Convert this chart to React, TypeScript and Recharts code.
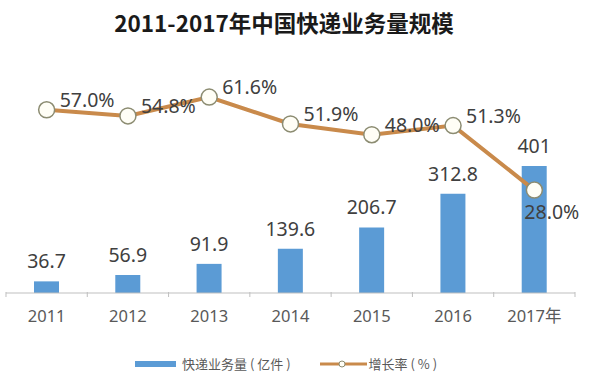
import { Bar, ComposedChart, LabelList, Line, XAxis, YAxis } from 'recharts';

const years = ['2011', '2012', '2013', '2014', '2015', '2016', '2017年'];
const volume = [36.7, 56.9, 91.9, 139.6, 206.7, 312.8, 401];
const growth = [57.0, 54.8, 61.6, 51.9, 48.0, 51.3, 28.0];

const data = years.map((year, i) => ({ year, volume: volume[i], growth: growth[i] }));

const BLUE = '#5b9bd5';
const ORANGE = '#c98a4b';
const TEXT = '#404040';
const FONT = '"Noto Sans", "Noto Sans CJK SC", sans-serif';

// width of one category on the axis, used for the boundary tick marks
const BAND = 81.3;

function YearTick(props: any) {
  const { x, y, payload, index } = props;
  return (
    <g>
      <line x1={x - BAND / 2} x2={x - BAND / 2} y1={y - 9} y2={y - 4} stroke="#bfbfbf" />
      {index === years.length - 1 && (
        <line x1={x + BAND / 2} x2={x + BAND / 2} y1={y - 9} y2={y - 4} stroke="#bfbfbf" />
      )}
      <text x={x} y={y + 21} textAnchor="middle" fill="#595959" fontSize={16.5} fontFamily={FONT}>
        {payload.value}
      </text>
    </g>
  );
}

function GrowthLabel(props: any) {
  const { x, y, value, index } = props;
  const last = index === growth.length - 1;
  return (
    <text
      x={last ? x - 10 : x + 13}
      y={last ? y + 29 : y - 3}
      fill={TEXT}
      fontSize={19.5}
      fontFamily={FONT}
      textAnchor="start"
    >
      {`${Number(value).toFixed(1)}%`}
    </text>
  );
}

export default function App() {
  return (
    <div style={{ position: 'fixed', left: 0, top: 0, width: 600, height: 378, background: '#fff' }}>
      <div
        style={{
          position: 'absolute',
          left: 0,
          width: 568,
          top: 6,
          textAlign: 'center',
          fontFamily: '"Noto Sans CJK SC", sans-serif',
          fontWeight: 700,
          fontSize: 22.5,
          color: '#1a1a1a',
        }}
      >
        2011-2017年中国快递业务量规模
      </div>
      <ComposedChart
        width={600}
        height={378}
        data={data}
        margin={{ top: 60, right: 25, bottom: 55, left: 6 }}
      >
        <XAxis
          dataKey="year"
          axisLine={{ stroke: '#bfbfbf' }}
          tickLine={false}
          height={30}
          interval={0}
          tick={<YearTick />}
        />
        <YAxis yAxisId="bar" domain={[0, 735]} hide />
        <YAxis yAxisId="line" domain={[-9.2, 75]} hide allowDataOverflow />
        <Bar yAxisId="bar" dataKey="volume" fill={BLUE} barSize={25} isAnimationActive={false}>
          <LabelList
            dataKey="volume"
            position="top"
            offset={13}
            fill={TEXT}
            fontSize={19.5}
            fontFamily={FONT}
          />
        </Bar>
        <Line
          yAxisId="line"
          dataKey="growth"
          stroke={ORANGE}
          strokeWidth={4}
          dot={{ r: 8, fill: '#fffef6', stroke: '#8c8c72', strokeWidth: 1.5 }}
          isAnimationActive={false}
        >
          <LabelList dataKey="growth" content={<GrowthLabel />} />
        </Line>
      </ComposedChart>
      <div
        style={{
          position: 'absolute',
          top: 354,
          left: 135,
          display: 'flex',
          alignItems: 'center',
          fontFamily: '"Noto Sans CJK SC", sans-serif',
          fontSize: 13,
          color: '#595959',
          whiteSpace: 'pre',
        }}
      >
        <span style={{ width: 41, height: 6, background: BLUE, display: 'inline-block' }} />
        <span style={{ marginLeft: 6 }}>快递业务量 ( 亿件 )</span>
        <svg width={47} height={12} style={{ marginLeft: 29 }}>
          <line x1={0} x2={47} y1={6} y2={6} stroke={ORANGE} strokeWidth={3} />
          <circle cx={22} cy={6} r={3} fill="#fffef6" stroke="#8c8c72" />
        </svg>
        <span style={{ marginLeft: 2 }}>增长率 ( % )</span>
      </div>
    </div>
  );
}
